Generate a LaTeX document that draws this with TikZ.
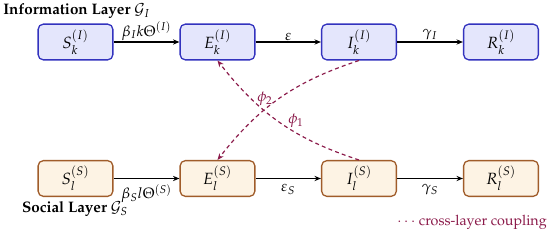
\documentclass[tikz,border=0pt]{standalone}
\usepackage[T1]{fontenc}
\usepackage{mathpazo}
\usetikzlibrary{arrows.meta}
\definecolor{infoborder}{RGB}{51,51,190}
\definecolor{infofill}{RGB}{228,230,252}
\definecolor{socborder}{RGB}{160,92,42}
\definecolor{socfill}{RGB}{253,243,228}
\definecolor{coupcol}{RGB}{139,26,74}
\tikzset{
  infobox/.style={draw=infoborder, fill=infofill, line width=1pt, rounded corners=4pt,
    minimum width=57.5pt, minimum height=27.5pt, font=\fontsize{12.5}{15}\selectfont, inner sep=2pt},
  socbox/.style={draw=socborder, fill=socfill, line width=1pt, rounded corners=4pt,
    minimum width=57.5pt, minimum height=27.5pt, font=\fontsize{12.5}{15}\selectfont, inner sep=2pt},
  flow/.style={-{Stealth[length=5pt,width=4pt]}, line width=0.8pt, black},
  coupling/.style={-{Stealth[length=5pt,width=4pt]}, line width=0.9pt, coupcol, dashed, dash pattern=on 3pt off 2.5pt},
  layerlabel/.style={font=\fontsize{11.7}{14}\selectfont\bfseries, inner sep=0pt},
  edgelabel/.style={inner sep=1pt, font=\fontsize{11.5}{14}\selectfont},
}
\begin{document}
\begin{tikzpicture}[x=0.7692pt, y=0.7692pt]
\useasboundingbox (0,0) rectangle (550,234);
% top row (info layer)
\node[infobox] (SI) at (75.5,192) {$S_k^{(I)}$};
\node[infobox] (EI) at (217.5,192) {$E_k^{(I)}$};
\node[infobox] (II) at (359,192) {$I_k^{(I)}$};
\node[infobox] (RI) at (501,192) {$R_k^{(I)}$};
% bottom row (social layer)
\node[socbox] (SS) at (75.5,55.5) {$S_l^{(S)}$};
\node[socbox] (ES) at (217.5,55.5) {$E_l^{(S)}$};
\node[socbox] (IS) at (359,55.5) {$I_l^{(S)}$};
\node[socbox] (RS) at (501,55.5) {$R_l^{(S)}$};
% layer labels
\node[layerlabel, anchor=west] (infolab) at (3,223) {Information Layer $\mathcal{G}_I$};
\node[layerlabel] (soclab) at (75,25) {Social Layer $\mathcal{G}_S$};
% flows info
\draw[flow] (SI) -- node[edgelabel, above] (l1) {$\beta_I k\Theta^{(I)}$} (EI);
\draw[flow] (EI) -- node[edgelabel, above] (l2) {$\varepsilon$} (II);
\draw[flow] (II) -- node[edgelabel, above] (l3) {$\gamma_I$} (RI);
% flows social
\draw[flow] (SS) -- node[edgelabel, below=3pt] (l4) {$\beta_S l\Theta^{(S)}$} (ES);
\draw[flow] (ES) -- node[edgelabel, below=3pt] (l5) {$\varepsilon_S$} (IS);
\draw[flow] (IS) -- node[edgelabel, below=3pt] (l6) {$\gamma_S$} (RS);
% coupling
\draw[coupling] (II.south) to[bend right=17] (ES.north);
\draw[coupling] (IS.north) to[bend left=17] (EI.south);
\node[text=coupcol, inner sep=0pt, font=\fontsize{11.5}{14}\selectfont] (phi2) at (265,135) {$\phi_2$};
\node[text=coupcol, inner sep=0pt, font=\fontsize{11.5}{14}\selectfont] (phi1) at (296,113) {$\phi_1$};
% legend
\node[text=coupcol, anchor=east, inner sep=0pt, font=\fontsize{11}{13}\selectfont] (legend) at (547,12) {$\cdots$ cross-layer coupling};
\end{tikzpicture}
\end{document}
